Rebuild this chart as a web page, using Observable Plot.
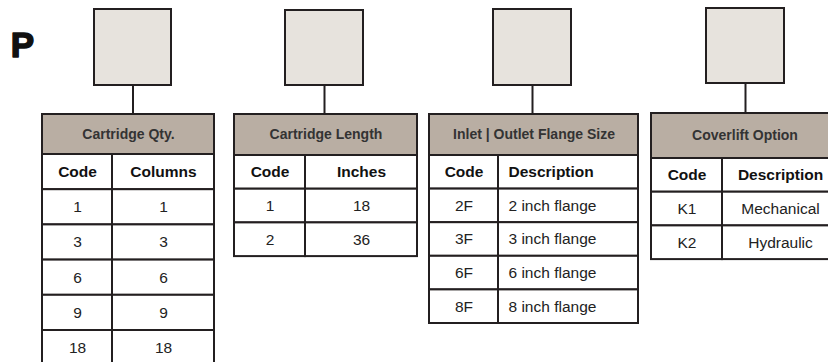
<!DOCTYPE html>
<html>
<head>
<meta charset="utf-8">
<script src="https://cdn.jsdelivr.net/npm/d3@7"></script>
<script src="https://cdn.jsdelivr.net/npm/@observablehq/plot@0.6"></script>
<style>
  html, body { margin: 0; padding: 0; background: #fff; overflow: hidden; }
  #chart svg { display: block; overflow: hidden; }
</style>
</head>
<body>
<div id="chart"></div>
<script>
// ---- data ----
const prefix = "P";
const tableTitles = ["Cartridge Qty.", "Cartridge Length", "Inlet | Outlet Flange Size", "Coverlift Option"];
const columnHeaders = [["Code", "Columns"], ["Code", "Inches"], ["Code", "Description"], ["Code", "Description"]];
const qtyCodes = ["1", "3", "6", "9", "18"];
const qtyColumns = ["1", "3", "6", "9", "18"];
const lengthCodes = ["1", "2"];
const lengthInches = ["18", "36"];
const flangeCodes = ["2F", "3F", "6F", "8F"];
const flangeDescriptions = ["2 inch flange", "3 inch flange", "6 inch flange", "8 inch flange"];
const coverliftCodes = ["K1", "K2"];
const coverliftDescriptions = ["Mechanical", "Hydraulic"];

const tableCodes = [qtyCodes, lengthCodes, flangeCodes, coverliftCodes];
const tableValues = [qtyColumns, lengthInches, flangeDescriptions, coverliftDescriptions];

// ---- layout (pixels) ----
const layout = [
  {left: 42,  div: 112, right: 214, top: 114, hb: 154, rowH: 35.2, sq: [94, 171, 9, 85],  align: "middle"},
  {left: 234, div: 305, right: 417, top: 114, hb: 155, rowH: 33.7, sq: [285, 363, 10, 85], align: "middle"},
  {left: 429, div: 498, right: 638, top: 114, hb: 155, rowH: 33.6, sq: [493, 571, 9, 85],  align: "start"},
  {left: 651, div: 722, right: 838, top: 113, hb: 158, rowH: 33.7, sq: [706, 784, 8, 83],  align: "middle"}
];

// ---- build mark data ----
const headers = [], cells = [], squares = [], links = [], titles = [], texts = [];
tableTitles.forEach((title, t) => {
  const L = layout[t];
  headers.push({x1: L.left, x2: L.right, y1: L.top, y2: L.hb});
  titles.push({x: (L.left + L.right) / 2, y: (L.top + L.hb) / 2, text: title});
  squares.push({x1: L.sq[0], x2: L.sq[1], y1: L.sq[2], y2: L.sq[3]});
  const cx = (L.sq[0] + L.sq[1]) / 2;
  links.push({x: cx, y1: L.sq[3], y2: L.top});
  const rows = [columnHeaders[t]].concat(tableCodes[t].map((c, i) => [c, tableValues[t][i]]));
  rows.forEach((row, r) => {
    const y1 = L.hb + r * L.rowH, y2 = y1 + L.rowH;
    cells.push({x1: L.left, x2: L.div, y1, y2});
    cells.push({x1: L.div, x2: L.right, y1, y2});
    const ym = (y1 + y2) / 2;
    texts.push({x: (L.left + L.div) / 2, y: ym, text: row[0], bold: r === 0, anchor: "middle"});
    const x2 = L.align === "start" ? L.div + 10 : (L.div + L.right) / 2;
    texts.push({x: x2, y: ym, text: row[1], bold: r === 0, anchor: L.align});
  });
});

const FONT = "Liberation Sans, Arial, Helvetica, sans-serif";
const INK = "#231f20";
const pick = (bold, anchor) => texts.filter(d => d.bold === bold && d.anchor === anchor);

const chart = Plot.plot({
  width: 828,
  height: 362,
  margin: 0,
  x: {type: "linear", domain: [0, 828], range: [0, 828], axis: null},
  y: {type: "linear", domain: [0, 362], range: [0, 362], axis: null},
  style: {fontFamily: FONT, background: "#fff"},
  marks: [
    Plot.rect(cells, {x1: "x1", x2: "x2", y1: "y1", y2: "y2", fill: "#fff", stroke: INK, strokeWidth: 2}),
    Plot.rect(headers, {x1: "x1", x2: "x2", y1: "y1", y2: "y2", fill: "#b9aea3", stroke: INK, strokeWidth: 2}),
    Plot.rect(squares, {x1: "x1", x2: "x2", y1: "y1", y2: "y2", fill: "#e7e3dd", stroke: INK, strokeWidth: 2}),
    Plot.link(links, {x1: "x", x2: "x", y1: "y1", y2: "y2", stroke: INK, strokeWidth: 2}),
    Plot.text(titles, {x: "x", y: "y", text: "text", fontSize: 14, fontWeight: "bold", fill: "#333", fontFamily: FONT}),
    Plot.text(pick(true, "middle"), {x: "x", y: "y", text: "text", textAnchor: "middle", fontSize: 15.5, fontWeight: "bold", fill: "#111", fontFamily: FONT}),
    Plot.text(pick(true, "start"), {x: "x", y: "y", text: "text", textAnchor: "start", fontSize: 15.5, fontWeight: "bold", fill: "#111", fontFamily: FONT}),
    Plot.text(pick(false, "middle"), {x: "x", y: "y", text: "text", textAnchor: "middle", fontSize: 15.5, fill: "#222", fontFamily: FONT}),
    Plot.text(pick(false, "start"), {x: "x", y: "y", text: "text", textAnchor: "start", fontSize: 15.5, fill: "#222", fontFamily: FONT}),
    Plot.text([prefix], {x: [22], y: [45], text: (d) => d, fontSize: 35, fontWeight: 900, fill: "#111", stroke: "#111", strokeWidth: 1.5, fontFamily: FONT})
  ]
});
document.getElementById("chart").appendChild(chart);
</script>
</body>
</html>
